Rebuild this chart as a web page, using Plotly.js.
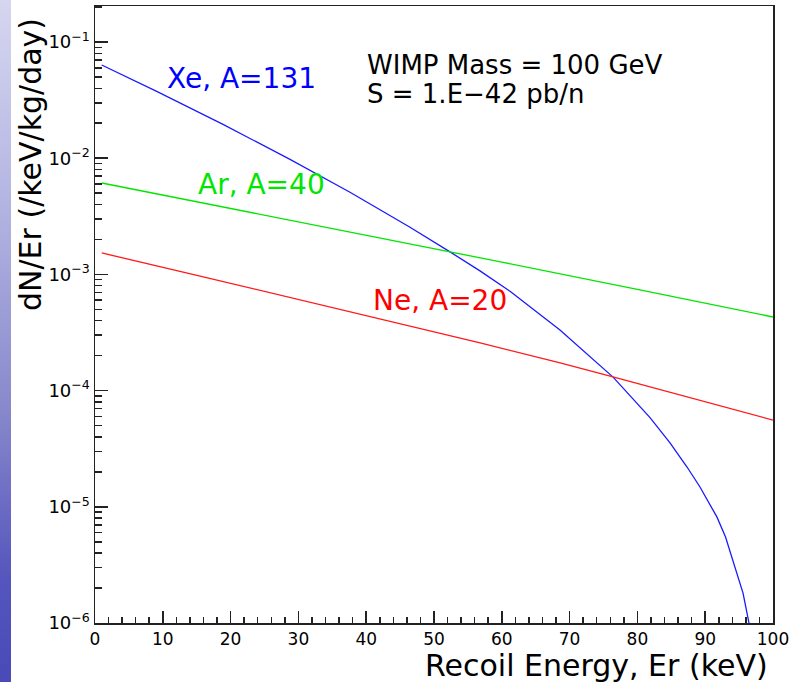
<!DOCTYPE html>
<html>
<head>
<meta charset="utf-8">
<script src="https://cdn.plot.ly/plotly-3.0.1.min.js"></script>
<style>
  html, body { margin:0; padding:0; background:#ffffff; }
  #wrap { position:relative; width:791px; height:682px; }
  #strip { position:absolute; left:0; top:0; width:11px; height:682px;
           background:linear-gradient(to bottom, #d6d6f0 0%, #b4b4e2 30%, #8888cc 60%, #5555bd 85%, #4a4ab8 100%); }
  #chart { position:absolute; left:0; top:0; width:791px; height:682px; }
</style>
</head>
<body>
<div id="wrap"><div id="strip"></div><div id="chart"></div></div>
<script>
// Xe, A=131
const xeEnergy = [0.99, 9.10, 18.88, 28.76, 37.61, 46.46, 52.36, 56.78, 61.21, 68.58, 76.45, 81.86, 84.81, 87.32, 89.23, 91.74, 93.0, 94.10, 95.58, 96.46, 97.0];
const xeRate   = [0.0634, 0.03758, 0.01954, 0.009772, 0.005093, 0.002547, 0.001563, 0.001072, 7.16e-4, 3.33e-4, 1.30e-4, 5.86e-5, 3.55e-5, 2.20e-5, 1.48e-5, 8.15e-6, 5.50e-6, 3.48e-6, 1.81e-6, 1.0e-6, 6.3e-7];
// Ar, A=40
const arEnergy = [1.0, 20, 40, 60, 80, 100];
const arRate   = [6.12e-3, 3.71e-3, 2.18e-3, 1.276e-3, 7.43e-4, 4.30e-4];
// Ne, A=20
const neEnergy = [1.0, 15.5, 56.8, 68.6, 76.4, 89.2, 100];
const neRate   = [1.53e-3, 9.68e-4, 2.57e-4, 1.73e-4, 1.31e-4, 8.3e-5, 5.58e-5];

const seriesLabels = ["Xe, A=131", "Ar, A=40", "Ne, A=20"];
const infoLines = ["WIMP Mass = 100 GeV", "S = 1.E\u221242 pb/n"];
const xTitle = "Recoil Energy, Er (keV)";
const yTitle = "dN/Er (/keV/kg/day)";
const yDecades = [1e-6, 1e-5, 1e-4, 1e-3, 1e-2, 1e-1];
const yDecadeLabels = ["10<sup>\u22126</sup>", "10<sup>\u22125</sup>", "10<sup>\u22124</sup>", "10<sup>\u22123</sup>", "10<sup>\u22122</sup>", "10<sup>\u22121</sup>"];

const FONT = "DejaVu Sans, Liberation Sans, Arial, sans-serif";

const yMinor = [];
yDecades.forEach(d => { for (let k = 2; k <= 9; k++) { const v = d * k; if (v < 0.21) yMinor.push(v); } });

const traces = [
  {x: xeEnergy, y: xeRate, mode: 'lines', line: {color: '#1a1aff', width: 1.3}, name: seriesLabels[0]},
  {x: arEnergy, y: arRate, mode: 'lines', line: {color: '#00e600', width: 1.3}, name: seriesLabels[1]},
  {x: neEnergy, y: neRate, mode: 'lines', line: {color: '#ff1a1a', width: 1.3}, name: seriesLabels[2]}
];

const layout = {
  width: 791, height: 682,
  margin: {l: 95, r: 18, t: 6, b: 59, pad: 0},
  paper_bgcolor: 'rgba(0,0,0,0)',
  plot_bgcolor: '#ffffff',
  showlegend: false,
  font: {family: FONT, color: '#000000'},
  xaxis: {
    range: [0, 100], tickmode: 'linear', tick0: 0, dtick: 10,
    ticks: 'inside', ticklen: 12, tickwidth: 1.5, tickcolor: '#222',
    minor: {dtick: 2, tick0: 0, ticks: 'inside', ticklen: 6, tickwidth: 1.5, tickcolor: '#222', showgrid: false},
    showline: true, mirror: true, linecolor: '#222', linewidth: 1.5,
    showgrid: false, zeroline: false,
    tickfont: {family: FONT, size: 17, color: '#000'}
  },
  yaxis: {
    type: 'log', range: [-6, -0.69],
    tickmode: 'array', tickvals: yDecades, ticktext: yDecadeLabels,
    ticks: 'inside', ticklen: 13, tickwidth: 1.5, tickcolor: '#222',
    minor: {tickmode: 'array', tickvals: yMinor, ticks: 'inside', ticklen: 7, tickwidth: 1.5, tickcolor: '#222', showgrid: false},
    showline: true, mirror: true, linecolor: '#222', linewidth: 1.5,
    showgrid: false, zeroline: false,
    tickfont: {family: FONT, size: 18, color: '#000'}
  },
  annotations: [
    {xref: 'paper', yref: 'paper', x: 0.2168, y: 0.8817, xanchor: 'center', yanchor: 'middle', showarrow: false,
     text: seriesLabels[0], font: {family: FONT, size: 28, color: '#0000ff'}},
    {xref: 'paper', yref: 'paper', x: 0.2463, y: 0.7115, xanchor: 'center', yanchor: 'middle', showarrow: false,
     text: seriesLabels[1], font: {family: FONT, size: 28, color: '#00e600'}},
    {xref: 'paper', yref: 'paper', x: 0.5088, y: 0.5219, xanchor: 'center', yanchor: 'middle', showarrow: false,
     text: seriesLabels[2], font: {family: FONT, size: 28, color: '#ff0000'}},
    {xref: 'paper', yref: 'paper', x: 0.3982, y: 0.9043, xanchor: 'left', yanchor: 'middle', showarrow: false,
     text: infoLines[0], font: {family: FONT, size: 26, color: '#000'}},
    {xref: 'paper', yref: 'paper', x: 0.3982, y: 0.8574, xanchor: 'left', yanchor: 'middle', showarrow: false,
     text: infoLines[1], font: {family: FONT, size: 26, color: '#000'}},
    {xref: 'paper', yref: 'paper', x: 0.9956, y: -0.0681, xanchor: 'right', yanchor: 'middle', showarrow: false,
     text: xTitle, font: {family: FONT, size: 30, color: '#000'}},
    {xref: 'paper', yref: 'paper', x: -0.0959, y: 0.7439, xanchor: 'center', yanchor: 'middle', showarrow: false,
     textangle: -90, text: yTitle, font: {family: FONT, size: 30, color: '#000'}}
  ]
};

Plotly.newPlot('chart', traces, layout, {staticPlot: true, displayModeBar: false});
</script>
</body>
</html>
